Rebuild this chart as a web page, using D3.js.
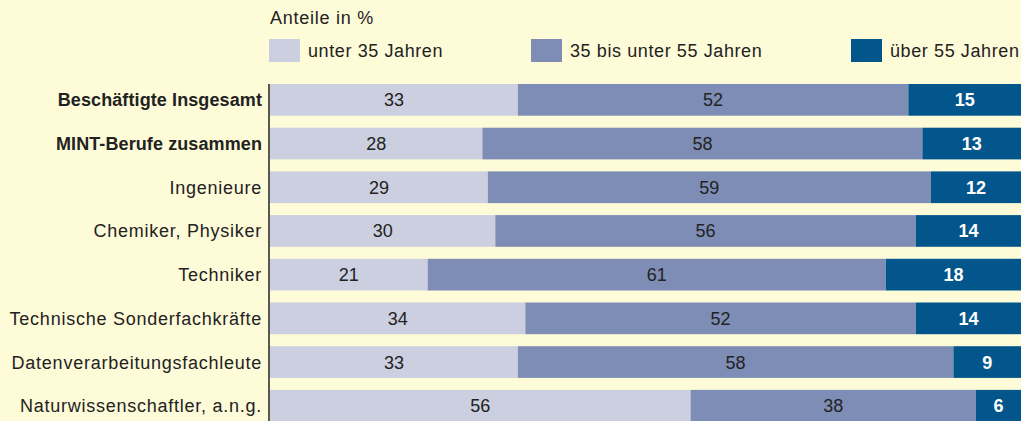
<!DOCTYPE html>
<html>
<head>
<meta charset="utf-8">
<script src="https://cdn.jsdelivr.net/npm/d3@7"></script>
<style>
  body { margin: 0; background: #fefbd8; }
  svg { display: block; font-family: "Liberation Sans", Arial, sans-serif; }
</style>
</head>
<body>
<div id="chart"></div>
<script>
// Daten
const categories = [
    "Beschäftigte Insgesamt",
    "MINT-Berufe zusammen",
    "Ingenieure",
    "Chemiker, Physiker",
    "Techniker",
    "Technische Sonderfachkräfte",
    "Datenverarbeitungsfachleute",
    "Naturwissenschaftler, a.n.g."
];
const boldCategories = ["Beschäftigte Insgesamt", "MINT-Berufe zusammen"];
const seriesNames = ["unter 35 Jahren", "35 bis unter 55 Jahren", "über 55 Jahren"];
const unter35 = [33, 28, 29, 30, 21, 34, 33, 56];
const bis55 = [52, 58, 59, 56, 61, 52, 58, 38];
const ueber55 = [15, 13, 12, 14, 18, 14, 9, 6];
const colors = ["#cbcfe0", "#7d8db5", "#03568c"];

const width = 1021;
const height = 421;
const fontSize = 18;
const spacing = 0.75;

const svg = d3.select("#chart")
    .append("svg")
    .attr("width", width)
    .attr("height", height);

svg.append("rect")
    .attr("width", width)
    .attr("height", height)
    .attr("fill", "#fefbd8");

// Titel
svg.append("text")
    .attr("x", 270)
    .attr("y", 24)
    .attr("font-size", fontSize)
    .attr("letter-spacing", spacing)
    .attr("fill", "#222")
    .text("Anteile in %");

// Legende
const legendX = [269, 531, 851];
const legend = svg.selectAll(".legend")
    .data(seriesNames)
    .enter()
    .append("g")
    .attr("class", "legend")
    .attr("transform", (d, i) => `translate(${legendX[i]}, 39)`);

legend.append("rect")
    .attr("width", 31)
    .attr("height", 23)
    .attr("fill", (d, i) => colors[i]);

legend.append("text")
    .attr("x", 39)
    .attr("y", 18)
    .attr("font-size", fontSize)
    .attr("letter-spacing", 0.6)
    .attr("fill", "#222")
    .text(d => d);

// Skalen
const step = 43.7;
const barH = 31.7;
const y = d3.scaleBand()
    .domain(categories)
    .range([84, 84 + step * (categories.length - 1) + barH])
    .paddingInner(1 - barH / step)
    .paddingOuter(0);

const x = d3.scaleLinear()
    .domain([0, 1])
    .range([270, 1021]);

const rows = categories.map((c, i) => {
    const vals = [unter35[i], bis55[i], ueber55[i]];
    const total = d3.sum(vals);
    let acc = 0;
    return vals.map((v, k) => {
        const s = { cat: c, k: k, v: v, x0: acc / total, x1: (acc + v) / total };
        acc += v;
        return s;
    });
});

const rowG = svg.selectAll(".row")
    .data(rows)
    .enter()
    .append("g")
    .attr("class", "row");

const segs = rowG.selectAll(".seg")
    .data(d => d)
    .enter()
    .append("g")
    .attr("class", "seg");

segs.append("rect")
    .attr("x", d => x(d.x0))
    .attr("y", d => y(d.cat))
    .attr("width", d => x(d.x1) - x(d.x0))
    .attr("height", y.bandwidth())
    .attr("fill", d => colors[d.k]);

segs.append("text")
    .attr("x", d => (x(d.x0) + x(d.x1)) / 2)
    .attr("y", d => y(d.cat) + y.bandwidth() / 2 + 6.5)
    .attr("text-anchor", "middle")
    .attr("font-size", fontSize)
    .attr("font-weight", d => d.k === 2 ? "bold" : "normal")
    .attr("fill", d => d.k === 2 ? "#fff" : "#222")
    .text(d => d.v);

// Kategorien-Beschriftung
svg.selectAll(".cat")
    .data(categories)
    .enter()
    .append("text")
    .attr("class", "cat")
    .attr("x", 262)
    .attr("y", d => y(d) + y.bandwidth() / 2 + 6.5)
    .attr("text-anchor", "end")
    .attr("font-size", fontSize)
    .attr("letter-spacing", d => boldCategories.includes(d) ? 0.1 : spacing)
    .attr("font-weight", d => boldCategories.includes(d) ? "bold" : "normal")
    .attr("fill", "#222")
    .text(d => d);

// Achsenlinie
svg.append("line")
    .attr("x1", 269)
    .attr("x2", 269)
    .attr("y1", 84)
    .attr("y2", height)
    .attr("stroke", "#222")
    .attr("stroke-width", 1.5);
</script>
</body>
</html>
